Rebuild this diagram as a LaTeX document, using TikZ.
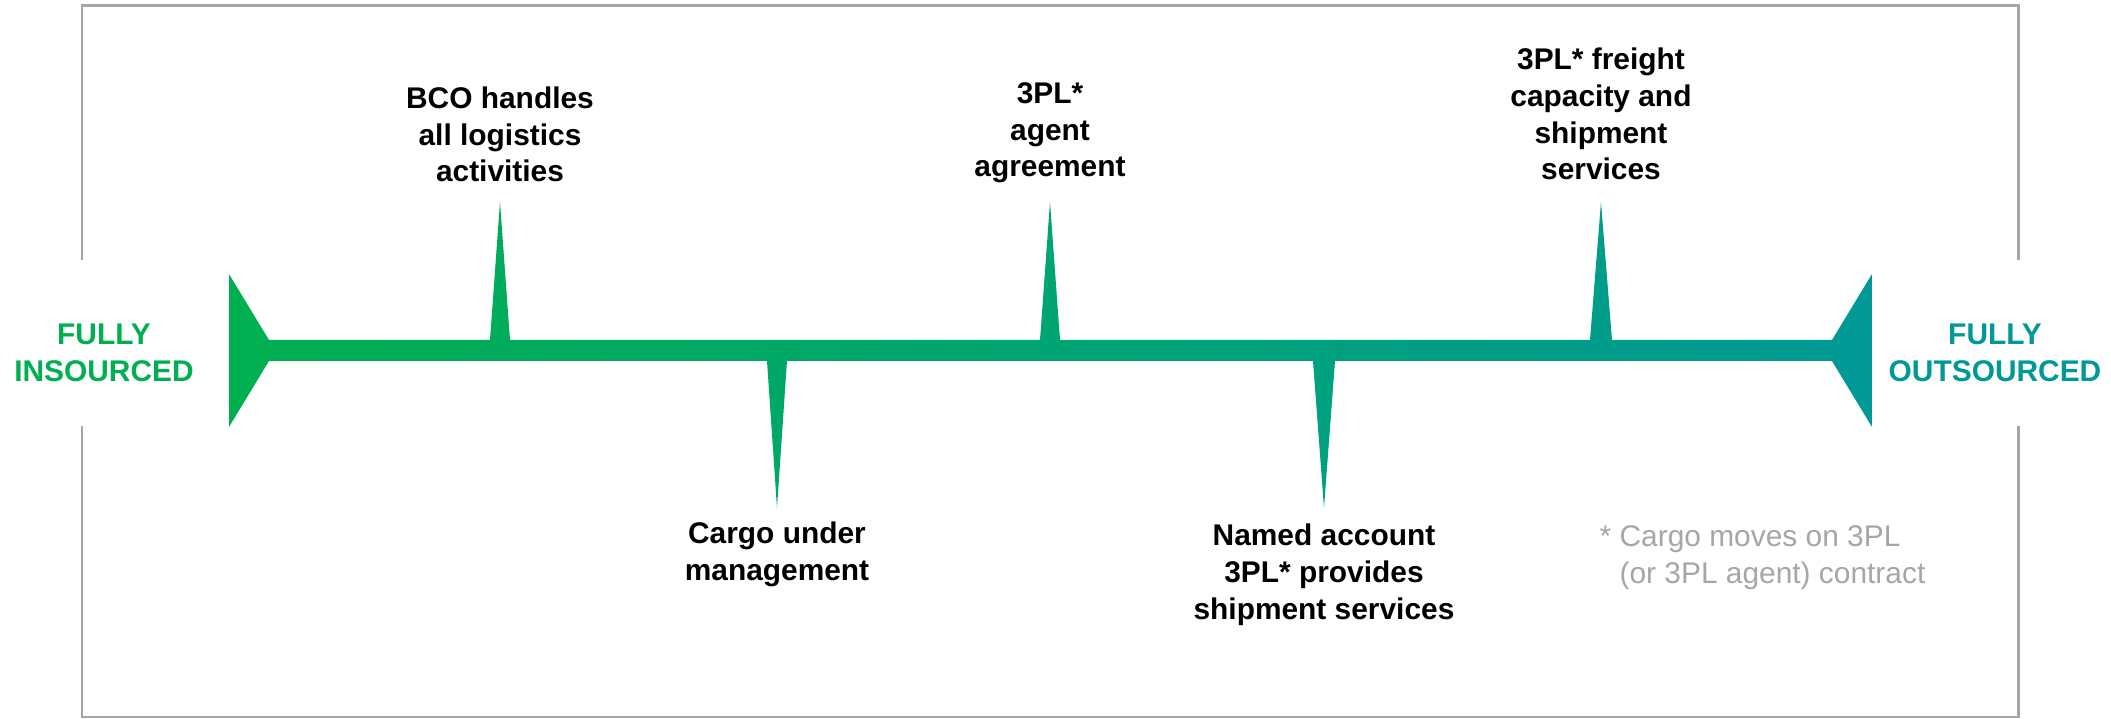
\documentclass[tikz,border=0pt]{standalone}
\usepackage{fontspec}
\setmainfont{Liberation Sans}
\usetikzlibrary{positioning}
\definecolor{insourced}{RGB}{0,176,80}
\definecolor{outsourced}{RGB}{0,153,150}
\definecolor{framegray}{RGB}{166,166,166}

\begin{document}
\begin{tikzpicture}[x=0.01cm,y=-0.01cm,
  stage/.style={font=\bfseries\fontsize{8.5}{10.5}\selectfont,align=center,inner sep=0pt,text=black},
  endlabel/.style={font=\bfseries\fontsize{8.5}{10.5}\selectfont,align=center,inner sep=0pt},
  note/.style={font=\fontsize{8.5}{10.5}\selectfont,align=left,inner sep=0pt,text=framegray}]

\useasboundingbox (0,0) rectangle (2111,719);
% open frame
\draw[framegray,line width=0.85pt] (82,260) -- (82,6) -- (2018,6) -- (2018,260);
\draw[framegray,line width=0.85pt] (82,426) -- (82,717) -- (2018,717) -- (2018,426);

% timeline with spikes
\shade[left color=insourced,right color=outsourced]
  (229,274) -- (269,340) -- (490,340) -- (500,202) -- (510,340)
  -- (1040,340) -- (1050,202) -- (1060,340)
  -- (1590,340) -- (1601,202) -- (1612,340)
  -- (1832,340) -- (1872,274) -- (1872,427) -- (1832,361)
  -- (1335,361) -- (1324,508) -- (1313,361)
  -- (787,361) -- (777,508) -- (767,361)
  -- (269,361) -- (229,427) -- cycle;

\node[endlabel,text=insourced] (insrc) at (104,353) {FULLY\\INSOURCED};
\node[endlabel,text=outsourced] (outsrc) at (1995,353) {FULLY\\OUTSOURCED};

\node[stage,anchor=south] (bco) at (500,183) {BCO handles\\all logistics\\activities};
\node[stage,anchor=south] (agent) at (1050,184) {3PL*\\agent\\agreement};
\node[stage,anchor=south] (freight) at (1601,181) {3PL* freight\\capacity and\\shipment\\services};
\node[stage,anchor=north] (cargo) at (777,521) {Cargo under\\management};
\node[stage,anchor=north] (named) at (1324,523) {Named account\\3PL* provides\\shipment services};

\node[note,anchor=north west] (foot) at (1599,525) {* Cargo moves on 3PL\\\hphantom{*}\ (or 3PL agent) contract};
\end{tikzpicture}
\end{document}
